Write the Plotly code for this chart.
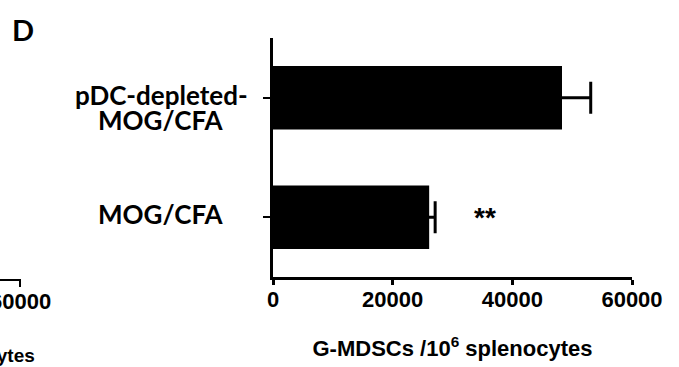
import plotly.graph_objects as go

categories = ["MOG/CFA", "pDC-depleted-MOG/CFA"]
labels = ["MOG/CFA", "pDC-depleted-<br>MOG/CFA"]
values = [26100, 48300]
errors = [1000, 4800]
x_ticks = [0, 20000, 40000, 60000]
x_ticktext = ["0", "20000", "40000", "60000"]
sig_label = "**"
sig_x = 35400

W, H = 679, 367
L, R, T, B = 273, 47, 38, 90
pw, ph = W - L - R, H - T - B

def px(x):
    return (x - L) / pw

def py(y):
    return (H - B - y) / ph

fig = go.Figure()
fig.add_trace(go.Bar(
    y=categories, x=values, orientation="h",
    marker=dict(color="black", line=dict(width=0)),
    width=0.53,
    error_x=dict(type="data", array=errors, color="black", thickness=3, width=16),
))

lab_font = dict(family="Lato, Open Sans, sans-serif", size=26, color="black")
for cat, lab in zip(categories, labels):
    for i, line in enumerate(lab.split("<br>")):
        fig.add_annotation(x=px(161), xref="paper", y=cat, yref="y", text="<b>%s</b>" % line,
                           showarrow=False, xanchor="center", yanchor="middle",
                           font=lab_font, yshift=3 - 25 * i)

fig.add_annotation(x=sig_x, y=categories[0], xref="x", yref="y", text="<b>%s</b>" % sig_label,
                   showarrow=False, font=dict(family="Liberation Sans, Arial", size=28, color="black"),
                   yshift=0)

fig.add_annotation(x=px(10), y=py(30), xref="paper", yref="paper", text="<b>D</b>", showarrow=False,
                   xanchor="left", yanchor="middle",
                   font=dict(family="Lato, sans-serif", size=29, color="black"))

# cropped neighbour panel fragments
fig.add_annotation(x=px(53), y=py(301), xref="paper", yref="paper", text="<b>60000</b>", showarrow=False,
                   xanchor="right", yanchor="middle",
                   font=dict(family="Liberation Sans, Arial", size=22, color="black"))
fig.add_annotation(x=px(37), y=py(355), xref="paper", yref="paper", text="<b>splenocytes</b>", showarrow=False,
                   xanchor="right", yanchor="middle",
                   font=dict(family="Liberation Sans, Arial", size=19, color="black"))
fig.add_shape(type="path", xref="paper", yref="paper",
              path="M %f,%f L %f,%f L %f,%f" % (px(-5), py(280), px(20), py(280), px(20), py(287)),
              line=dict(color="black", width=2))

fig.update_layout(
    width=W, height=H, margin=dict(l=L, r=R, t=T, b=B, autoexpand=False),
    paper_bgcolor="white", plot_bgcolor="white", showlegend=False,
    xaxis=dict(range=[0, 60000], tickvals=x_ticks, ticktext=["<b>%s</b>" % t for t in x_ticktext],
               showgrid=False, zeroline=False, automargin=True,
               showline=True, linecolor="black", linewidth=2.5, ticks="outside", ticklen=5, tickwidth=2.5,
               tickcolor="black", ticklabelstandoff=-4,
               tickfont=dict(family="Liberation Sans, Arial", size=22, color="black"),
               title=dict(text="<b>G-MDSCs /10<sup>6</sup> splenocytes</b>", standoff=30,
                          font=dict(family="Liberation Sans, Arial", size=22, color="black"))),
    yaxis=dict(type="category", categoryorder="array", categoryarray=categories, range=[-0.5, 1.5],
               showticklabels=False, showgrid=False, zeroline=False, showline=True, linecolor="black",
               automargin=False,
               linewidth=2.5, ticks="outside", ticklen=7, tickwidth=2, tickcolor="black"),
)
fig.write_html("out.html", config={"displayModeBar": False},
               post_script="document.body.style.margin='0';document.body.style.overflow='hidden';")
